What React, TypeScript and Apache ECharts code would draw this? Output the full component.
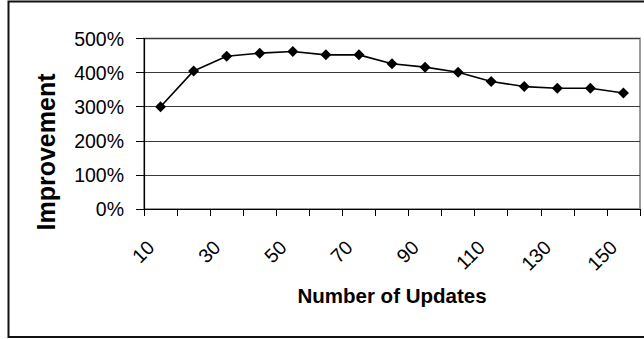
import React, { useEffect, useRef } from "react";
import * as echarts from "echarts";

const categories = ["10", "20", "30", "40", "50", "60", "70", "80", "90", "100", "110", "120", "130", "140", "150"];
const improvement = [300, 405, 448, 457, 462, 452, 452, 426, 416, 401, 374, 359, 354, 354, 340];
const yTicks = { min: 0, max: 500, interval: 100 };
const xTitle = "Number of Updates";
const yTitle = "Improvement";

const FONT = "'Liberation Sans', Arial, Helvetica, sans-serif";

export default function App() {
  const ref = useRef<HTMLDivElement>(null);
  useEffect(() => {
    if (!ref.current) return;
    const chart = echarts.init(ref.current, null, { renderer: "svg" });
    chart.setOption({
      animation: false,
      backgroundColor: "#ffffff",
      textStyle: { fontFamily: FONT },
      grid: {
        left: 144,
        right: 4,
        top: 38.5,
        bottom: 130,
        show: true,
        borderColor: "#9a9a9a",
        borderWidth: 2,
        backgroundColor: "transparent",
      },
      graphic: [
        {
          type: "rect",
          shape: { x: 8.5, y: 1.5, width: 645, height: 335.5 },
          style: { fill: "none", stroke: "#111", lineWidth: 2 },
          z: 100,
        },
        {
          type: "text",
          x: 46,
          y: 152,
          rotation: Math.PI / 2,
          style: {
            text: yTitle,
            fontFamily: FONT,
            fontWeight: "bold",
            fontSize: 25,
            fill: "#000",
            textAlign: "center",
            textVerticalAlign: "middle",
          },
        },
      ],
      xAxis: {
        type: "category",
        data: categories,
        boundaryGap: true,
        name: xTitle,
        nameLocation: "middle",
        nameGap: 76,
        nameMoveOverlap: false,
        nameTextStyle: { fontFamily: FONT, fontWeight: "bold", fontSize: 20.5, color: "#000" },
        axisLine: { show: true, lineStyle: { color: "#000", width: 1.2 } },
        axisTick: { show: true, interval: 0, length: 7, inside: false, lineStyle: { color: "#000" } },
        axisLabel: {
          interval: 1,
          rotate: 45,
          margin: 25,
          padding: [0, 14, 0, 0],
          fontSize: 19.5,
          fontFamily: FONT,
          color: "#000",
        },
        splitLine: { show: false },
      },
      yAxis: {
        type: "value",
        min: yTicks.min,
        max: yTicks.max,
        interval: yTicks.interval,
        axisLine: { show: true, lineStyle: { color: "#000", width: 1.2 } },
        axisTick: { show: true, length: 8, inside: false, lineStyle: { color: "#000" } },
        axisLabel: {
          formatter: "{value}%",
          margin: 20,
          fontSize: 19.5,
          fontFamily: FONT,
          color: "#000",
        },
        splitLine: { show: true, lineStyle: { color: "#3a3a3a", width: 1 } },
      },
      series: [
        {
          type: "line",
          data: improvement,
          symbol: "diamond",
          symbolSize: 11,
          itemStyle: { color: "#000" },
          lineStyle: { color: "#000", width: 1.6 },
          z: 5,
        },
      ],
    });
    return () => chart.dispose();
  }, []);
  return (
    <div
      ref={ref}
      style={{ position: "absolute", left: 0, top: 0, width: 644, height: 339 }}
    />
  );
}
